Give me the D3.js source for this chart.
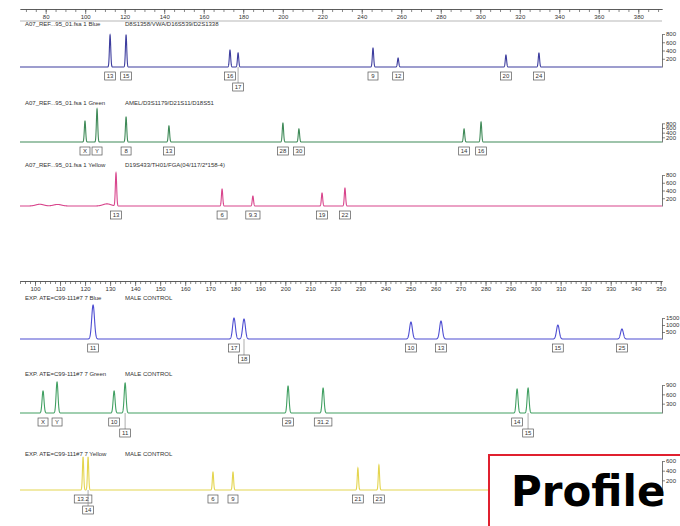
<!DOCTYPE html>
<html><head><meta charset="utf-8">
<script src="https://cdn.jsdelivr.net/npm/d3@7/dist/d3.min.js"></script>
<style>body{margin:0;background:#fff;}svg{display:block;font-family:"Liberation Sans",Arial,sans-serif;}</style>
</head><body><svg id="c" width="680" height="526"></svg>
<script>
// ---------- data ----------
const rulerTicksA = [80,100,120,140,160,180,200,220,240,260,280,300,320,340,360,380];
const rulerTicksB = [100,110,120,130,140,150,160,170,180,190,200,210,220,230,240,250,260,270,280,290,300,310,320,330,340,350];

const titleBlueA = ["A07_REF...95_01.fsa 1 Blue", "D8S1358/VWA/D16S539/D2S1338"];
const blueA_alleles = ["13","15","16","17","9","12","20","24"];
const blueA_sizes   = [112.6,120.7,173.3,177.4,245.7,258.4,313.0,329.7];
const blueA_heights = [776,776,412,340,460,218,291,340];
const blueA_rows    = [0,0,0,1,0,0,0,0];
const blueA_axis    = [200,400,600,800];

const titleGreenA = ["A07_REF...95_01.fsa 1 Green", "AMEL/D3S1179/D21S11/D18S51"];
const greenA_alleles = ["X","Y","8","13","28","30","14","16"];
const greenA_sizes   = [99.9,106.0,120.7,142.4,200.1,208.2,291.8,300.4];
const greenA_heights = [900,1414,1071,686,814,557,557,857];
const greenA_rows    = [0,0,0,0,0,0,0,0];
const greenA_axis    = [200,400,600,800];

const titleYellowA = ["A07_REF...95_01.fsa 1 Yellow", "D19S433/TH01/FGA(04/117/2*158-4)"];
const yellowA_alleles = ["13","6","9.3","19","22"];
const yellowA_sizes   = [115.6,169.3,184.9,219.9,231.5];
const yellowA_heights = [852,439,258,335,464];
const yellowA_rows    = [0,0,0,0,0];
const yellowA_axis    = [200,400,600,800];
// small unlabelled baseline humps at the start of the yellow trace
const yellowA_hump_sizes   = [77,86,111];
const yellowA_hump_heights = [45,40,55];

const titleBlueB = ["EXP. ATE=C99-111#7 7 Blue", "MALE CONTROL"];
const blueB_alleles = ["11","17","18","10","13","15","25"];
const blueB_sizes   = [123.2,179.5,183.5,250.2,262.2,308.9,334.5];
const blueB_heights = [2430,1500,1430,1215,1286,1000,714];
const blueB_rows    = [0,0,1,0,0,0,0];
const blueB_axis    = [500,1000,1500];

const titleGreenB = ["EXP. ATE=C99-111#7 7 Green", "MALE CONTROL"];
const greenB_alleles = ["X","Y","10","11","29","31.2","14","15"];
const greenB_sizes   = [103.2,108.8,131.6,136.0,201.1,215.1,292.6,297.0];
const greenB_heights = [707,997,707,964,868,804,771,804];
const greenB_rows    = [0,0,0,1,0,0,0,1];
const greenB_axis    = [300,600,900];

const titleYellowB = ["EXP. ATE=C99-111#7 7 Yellow", "MALE CONTROL"];
const yellowB_alleles = ["13.2","14","6","9","21","23"];
const yellowB_sizes   = [119.2,121.2,171.1,179.1,229.0,237.4];
const yellowB_heights = [683,683,372,372,455,517];
const yellowB_rows    = [0,1,0,0,0,0];
const yellowB_axis    = [200,400,600];

const stampText = "Profile";

// ---------- layout ----------
const svg = d3.select("#c");
const xA = d3.scaleLinear().domain([67,392]).range([20,662]);
const xB = d3.scaleLinear().domain([94,350.5]).range([20,662]);

function ruler(x, y, ticks, minorStep, withLine) {
  const g = svg.append("g").attr("transform", `translate(0,${y})`);
  const dom = x.domain();
  const minor = d3.range(Math.ceil(dom[0]/minorStep)*minorStep, dom[1], minorStep);
  g.append("g").call(d3.axisBottom(x).tickValues(minor).tickSize(3).tickSizeOuter(0).tickFormat(""));
  const gM = g.append("g").call(d3.axisBottom(x).tickValues(ticks).tickSize(5).tickSizeOuter(0).tickPadding(1));
  g.selectAll("path.domain").attr("stroke","#555").attr("stroke-width",0.8);
  g.selectAll(".tick line").attr("stroke","#555").attr("stroke-width",0.7);
  gM.selectAll("text").attr("font-size",6).attr("fill","#333").attr("font-family","Liberation Sans, Arial, sans-serif");
  if (withLine) g.append("line").attr("x1",20).attr("x2",662).attr("y1",12).attr("y2",12).attr("stroke","#888").attr("stroke-width",0.6);
}
ruler(xA, 9, rulerTicksA, 5, true);
ruler(xB, 281, rulerTicksB, 2, false);

const panels = [
  {x:xA, base:67,  topPx:34,    maxV:800,  title:titleBlueA,   al:blueA_alleles,  s:blueA_sizes,  h:blueA_heights,  r:blueA_rows,  ax:blueA_axis,  ty:26,  color:"#3d3d9e", sig:0.33},
  {x:xA, base:142, topPx:123.3, maxV:800,  title:titleGreenA,  al:greenA_alleles, s:greenA_sizes, h:greenA_heights, r:greenA_rows, ax:greenA_axis, ty:105, color:"#3f8a58", sig:0.33},
  {x:xA, base:206, topPx:175,   maxV:800,  title:titleYellowA, al:yellowA_alleles,s:yellowA_sizes,h:yellowA_heights,r:yellowA_rows,ax:yellowA_axis,ty:167, color:"#d8458c", sig:0.33,
     hs:yellowA_hump_sizes, hh:yellowA_hump_heights},
  {x:xB, base:339, topPx:318,   maxV:1500, title:titleBlueB,   al:blueB_alleles,  s:blueB_sizes,  h:blueB_heights,  r:blueB_rows,  ax:blueB_axis,  ty:300, color:"#4d4dd2", sig:0.55},
  {x:xB, base:413, topPx:385,   maxV:900,  title:titleGreenB,  al:greenB_alleles, s:greenB_sizes, h:greenB_heights, r:greenB_rows, ax:greenB_axis, ty:376, color:"#42a063", sig:0.38},
  {x:xB, base:490, topPx:461,   maxV:600,  title:titleYellowB, al:yellowB_alleles,s:yellowB_sizes,h:yellowB_heights,r:yellowB_rows,ax:yellowB_axis,ty:456, color:"#e4d550", sig:0.25},
];

panels.forEach((p,i) => {
  const y = d3.scaleLinear().domain([0,p.maxV]).range([p.base,p.topPx]);
  p.y = y;
  const g = svg.append("g");
  const t = g.append("text").attr("y",p.ty).attr("font-size",6).attr("fill","#333");
  t.append("tspan").attr("x",25).text(p.title[0]);
  t.append("tspan").attr("x",125).text(p.title[1]);
  const dom = p.x.domain();
  const hs = p.hs || [], hh = p.hh || [];
  const pts = d3.range(dom[0], dom[1], 0.04).map(bp => {
    let v = 0;
    for (let k=0;k<p.s.length;k++){ const d=(bp-p.s[k])/p.sig; if (Math.abs(d)<6) v += p.h[k]*Math.exp(-0.5*d*d); }
    for (let k=0;k<hs.length;k++){ const d=(bp-hs[k])/2; if (Math.abs(d)<6) v += hh[k]*Math.exp(-0.5*d*d); }
    return [bp, v];
  });
  g.append("path").datum(pts)
    .attr("d", d3.line().x(d=>p.x(d[0])).y(d=>y(d[1])))
    .attr("fill","none").attr("stroke",p.color).attr("stroke-width",1.1);
  p.al.forEach((a,k) => {
    const cx = p.x(p.s[k]);
    const w = Math.max(10, a.length*3.4+4);
    const top = p.base + 5 + p.r[k]*11;
    if (p.r[k]) g.append("line").attr("x1",cx).attr("x2",cx).attr("y1",p.base).attr("y2",top).attr("stroke","#777").attr("stroke-width",0.6);
    g.append("rect").attr("x",cx-w/2).attr("y",top).attr("width",w).attr("height",8)
      .attr("fill","#fff").attr("stroke","#555").attr("stroke-width",0.7);
    g.append("text").attr("x",cx).attr("y",top+6.2).attr("text-anchor","middle")
      .attr("font-size",6).attr("fill","#333").text(a);
  });
});

svg.append("rect").attr("x",489).attr("y",455).attr("width",200).attr("height",100)
  .attr("fill","#fff").attr("stroke","#e0202f").attr("stroke-width",2);

panels.forEach(p => {
  const g = svg.append("g").attr("transform","translate(662,0)")
    .call(d3.axisRight(p.y).tickValues(p.ax).tickSize(3).tickSizeOuter(0).tickPadding(1).tickFormat(d3.format("d")));
  g.select("path.domain").attr("stroke","#555").attr("stroke-width",0.8);
  g.selectAll(".tick line").attr("stroke","#555").attr("stroke-width",0.7);
  g.selectAll("text").attr("font-size",6).attr("fill","#333").attr("font-family","Liberation Sans, Arial, sans-serif");
});

svg.append("text").attr("x",511).attr("y",506).attr("font-size",42).attr("font-weight","bold")
  .attr("font-family","DejaVu Sans, sans-serif").attr("fill","#000").text(stampText);
</script></body></html>
